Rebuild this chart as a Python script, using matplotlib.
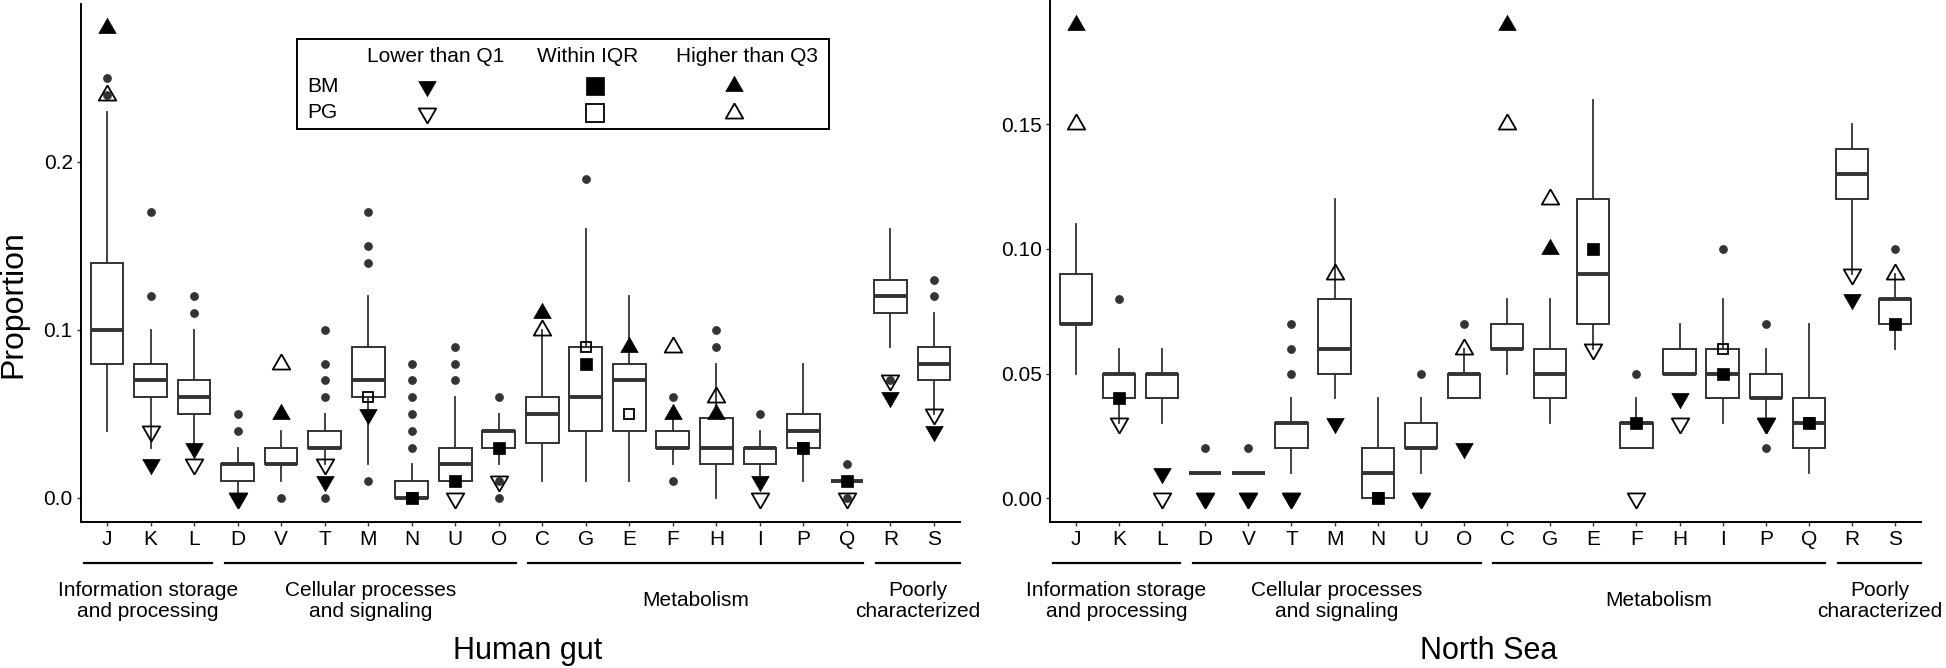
import matplotlib
matplotlib.use("Agg")
import matplotlib.pyplot as plt
import numpy as np
from matplotlib.lines import Line2D
from matplotlib.patches import Rectangle
from matplotlib.transforms import blended_transform_factory

plt.rcParams['font.family'] = ['Liberation Sans', 'DejaVu Sans']

# ---------------- data ----------------
categories = ["J", "K", "L", "D", "V", "T", "M", "N", "U", "O",
              "C", "G", "E", "F", "H", "I", "P", "Q", "R", "S"]

group_names = ["Information storage\nand processing", "Cellular processes\nand signaling",
               "Metabolism", "Poorly\ncharacterized"]
group_first = ["J", "D", "C", "R"]
group_last = ["L", "O", "Q", "S"]

legend_cols = ["Lower than Q1", "Within IQR", "Higher than Q3"]
legend_rows = ["BM", "PG"]

# Human gut
gut_q1 = [0.08, 0.06, 0.05, 0.01, 0.02, 0.03, 0.06, 0.00, 0.01, 0.03,
          0.0325, 0.04, 0.04, 0.03, 0.02, 0.02, 0.03, 0.01, 0.11, 0.07]
gut_med = [0.10, 0.07, 0.06, 0.02, 0.02, 0.03, 0.07, 0.00, 0.02, 0.04,
           0.05, 0.06, 0.07, 0.03, 0.03, 0.03, 0.04, 0.01, 0.12, 0.08]
gut_q3 = [0.14, 0.08, 0.07, 0.02, 0.03, 0.04, 0.09, 0.01, 0.03, 0.04,
          0.06, 0.09, 0.08, 0.04, 0.0475, 0.03, 0.05, 0.01, 0.13, 0.09]
gut_lo = [0.04, 0.03, 0.03, 0.00, 0.01, 0.02, 0.02, 0.00, 0.01, 0.02,
          0.01, 0.01, 0.01, 0.02, 0.00, 0.01, 0.01, 0.01, 0.09, 0.05]
gut_hi = [0.23, 0.10, 0.10, 0.03, 0.04, 0.05, 0.12, 0.02, 0.06, 0.05,
          0.10, 0.16, 0.12, 0.05, 0.08, 0.04, 0.08, 0.01, 0.16, 0.11]
gut_out = [[0.25, 0.24], [0.17, 0.12], [0.12, 0.11], [0.05, 0.04], [0.00],
           [0.10, 0.08, 0.07, 0.06, 0.00], [0.17, 0.15, 0.14, 0.01],
           [0.08, 0.07, 0.06, 0.05, 0.04, 0.03], [0.09, 0.08, 0.07],
           [0.06, 0.01, 0.00], [], [0.19], [], [0.06, 0.01], [0.10, 0.09],
           [0.05], [], [0.02, 0.00], [0.07], [0.13, 0.12]]
gut_bm = [0.28, 0.02, 0.03, 0.00, 0.05, 0.01, 0.05, 0.00, 0.01, 0.03,
          0.11, 0.08, 0.09, 0.05, 0.05, 0.01, 0.03, 0.01, 0.06, 0.04]
gut_pg = [0.24, 0.04, 0.02, 0.00, 0.08, 0.02, 0.06, 0.00, 0.00, 0.01,
          0.10, 0.09, 0.05, 0.09, 0.06, 0.00, 0.03, 0.00, 0.07, 0.05]

# North Sea
sea_q1 = [0.07, 0.04, 0.04, 0.01, 0.01, 0.02, 0.05, 0.00, 0.02, 0.04,
          0.06, 0.04, 0.07, 0.02, 0.05, 0.04, 0.04, 0.02, 0.12, 0.07]
sea_med = [0.07, 0.05, 0.05, 0.01, 0.01, 0.03, 0.06, 0.01, 0.02, 0.05,
           0.06, 0.05, 0.09, 0.03, 0.05, 0.05, 0.04, 0.03, 0.13, 0.08]
sea_q3 = [0.09, 0.05, 0.05, 0.01, 0.01, 0.03, 0.08, 0.02, 0.03, 0.05,
          0.07, 0.06, 0.12, 0.03, 0.06, 0.06, 0.05, 0.04, 0.14, 0.08]
sea_lo = [0.05, 0.03, 0.03, 0.01, 0.01, 0.01, 0.04, 0.00, 0.01, 0.04,
          0.05, 0.03, 0.06, 0.02, 0.05, 0.03, 0.03, 0.01, 0.09, 0.06]
sea_hi = [0.11, 0.06, 0.06, 0.01, 0.01, 0.04, 0.12, 0.04, 0.04, 0.06,
          0.08, 0.08, 0.16, 0.04, 0.07, 0.08, 0.06, 0.07, 0.15, 0.09]
sea_out = [[], [0.08], [], [0.02], [0.02], [0.07, 0.06, 0.05], [], [], [0.05],
           [0.07], [], [], [], [0.05], [], [0.10], [0.07, 0.02], [], [], [0.10]]
sea_bm = [0.19, 0.04, 0.01, 0.00, 0.00, 0.00, 0.03, 0.00, 0.00, 0.02,
          0.19, 0.10, 0.10, 0.03, 0.04, 0.05, 0.03, 0.03, 0.08, 0.07]
sea_pg = [0.15, 0.03, 0.00, 0.00, 0.00, 0.00, 0.09, 0.00, 0.00, 0.06,
          0.15, 0.12, 0.06, 0.00, 0.03, 0.06, 0.03, 0.03, 0.09, 0.09]

gut_yticks = [0.0, 0.1, 0.2]
gut_yticklabels = ["0.0", "0.1", "0.2"]
sea_yticks = [0.0, 0.05, 0.10, 0.15]
sea_yticklabels = ["0.00", "0.05", "0.10", "0.15"]

# ---------------- layout / style ----------------
W, H = 1946, 668
fig = plt.figure(figsize=(W / 100, H / 100), dpi=100)


def fx(px):
    return px / W


def fy(py):
    return 1 - py / H


UP = [(0, 1), (-0.866, -0.5), (0.866, -0.5), (0, 1)]
DOWN = [(0, -1), (-0.866, 0.5), (0.866, 0.5), (0, -1)]
DARK = "#333333"
FS = 15

# group line extents relative to first/last category position
grp_pad_left = [0.53, 0.29, 0.33, 0.32]
grp_pad_right = [0.41, 0.40, 0.38, 0.60]


def marker_for(v, a, b):
    if v < a - 1e-6:
        return DOWN
    if v > b + 1e-6:
        return UP
    return "s"


def panel(rect, q1, med, q3, lo, hi, out, bm, pg, yticks, yticklabels, title, title_x):
    ax = fig.add_axes(rect)
    pos = np.arange(1, len(categories) + 1)
    stats = [dict(q1=a, med=m, q3=b, whislo=l, whishi=h, fliers=f)
             for a, m, b, l, h, f in zip(q1, med, q3, lo, hi, out)]
    ax.bxp(stats, positions=pos, widths=0.75, showcaps=False, patch_artist=True,
           boxprops=dict(facecolor="white", edgecolor=DARK, linewidth=1.4),
           medianprops=dict(color=DARK, linewidth=2.8, solid_capstyle="butt"),
           whiskerprops=dict(color=DARK, linewidth=1.3),
           flierprops=dict(marker="o", markerfacecolor=DARK, markeredgecolor=DARK,
                           markersize=5.3, linestyle="none"))
    for p, v, a, b in zip(pos, pg, q1, q3):
        m = marker_for(v, a, b)
        ms = 7.3 if m == "s" else 14.5
        ax.plot([p], [v], linestyle="none", marker=m, markersize=ms,
                markerfacecolor="none", markeredgecolor="black", markeredgewidth=1.3,
                zorder=5)
    for p, v, a, b in zip(pos, bm, q1, q3):
        m = marker_for(v, a, b)
        ms = 8.5 if m == "s" else 14.5
        ax.plot([p], [v], linestyle="none", marker=m, markersize=ms,
                markerfacecolor="black", markeredgecolor="black", markeredgewidth=0.5,
                zorder=6)

    allv = np.concatenate([q1, q3, lo, hi, bm, pg] + [np.array(o) for o in out if o])
    vmin, vmax = allv.min(), allv.max()
    pad = 0.05 * (vmax - vmin)
    ax.set_ylim(vmin - pad, vmax + pad)
    ax.set_xlim(0.4, len(categories) + 0.6)

    ax.set_xticks(pos)
    ax.set_xticklabels(categories)
    ax.set_yticks(yticks)
    ax.set_yticklabels(yticklabels)
    ax.tick_params(axis="both", length=3, width=1, color="#333333",
                   labelsize=FS, pad=3, labelcolor="black")
    for s in ["top", "right"]:
        ax.spines[s].set_visible(False)
    for s in ["left", "bottom"]:
        ax.spines[s].set_linewidth(1.4)
        ax.spines[s].set_color("black")

    tr = blended_transform_factory(ax.transData, fig.transFigure)
    idx = {c: i + 1 for i, c in enumerate(categories)}
    for name, f, l, pl, pr in zip(group_names, group_first, group_last,
                                  grp_pad_left, grp_pad_right):
        x0 = idx[f] - pl
        x1 = idx[l] + pr
        ax.add_line(Line2D([x0, x1], [fy(563), fy(563)], transform=tr,
                           color="black", linewidth=1.6, clip_on=False))
        ax.text((x0 + x1) / 2, fy(601), name, transform=tr, ha="center",
                va="center", fontsize=FS, linespacing=1.15, clip_on=False)
    fig.text(fx(title_x), fy(651), title, ha="center", va="center", fontsize=22)
    return ax


ax1 = panel([fx(81), fy(521.5), fx(960) - fx(81), fy(4) - fy(521.5)],
            gut_q1, gut_med, gut_q3, gut_lo, gut_hi, gut_out, gut_bm, gut_pg,
            gut_yticks, gut_yticklabels, "Human gut", 528)
ax2 = panel([fx(1050), fy(521.7), fx(1921) - fx(1050), fy(1.2) - fy(521.7)],
            sea_q1, sea_med, sea_q3, sea_lo, sea_hi, sea_out, sea_bm, sea_pg,
            sea_yticks, sea_yticklabels, "North Sea", 1489)

fig.text(fx(13), fy(304), "Proportion", rotation=90, ha="center", va="center",
         fontsize=23)

# ---------------- legend ----------------
fig.add_artist(Rectangle((fx(297), fy(129)), fx(829) - fx(297), fy(39) - fy(129),
                         transform=fig.transFigure, facecolor="white",
                         edgecolor="black", linewidth=1.4, zorder=10))
col_text_x = [436, 588, 747]
col_mark_x = [427, 595, 734]
row_y = [86, 113]
col_markers = [DOWN, "s", UP]
for t, x in zip(legend_cols, col_text_x):
    fig.text(fx(x), fy(56), t, ha="center", va="center", fontsize=FS, zorder=11)
for r, y in zip(legend_rows, row_y):
    fig.text(fx(307), fy(y), r, ha="left", va="center", fontsize=FS, zorder=11)
for ci, (x, m) in enumerate(zip(col_mark_x, col_markers)):
    for ri, y in enumerate(row_y):
        filled = ri == 0
        ms = 12.3 if m == "s" else 14.5
        fig.add_artist(Line2D([fx(x)], [fy(y)], transform=fig.transFigure,
                              linestyle="none", marker=m, markersize=ms,
                              markerfacecolor="black" if filled else "none",
                              markeredgecolor="black",
                              markeredgewidth=0.5 if filled else 1.3, zorder=12))

fig.savefig("out.png", dpi=100)
